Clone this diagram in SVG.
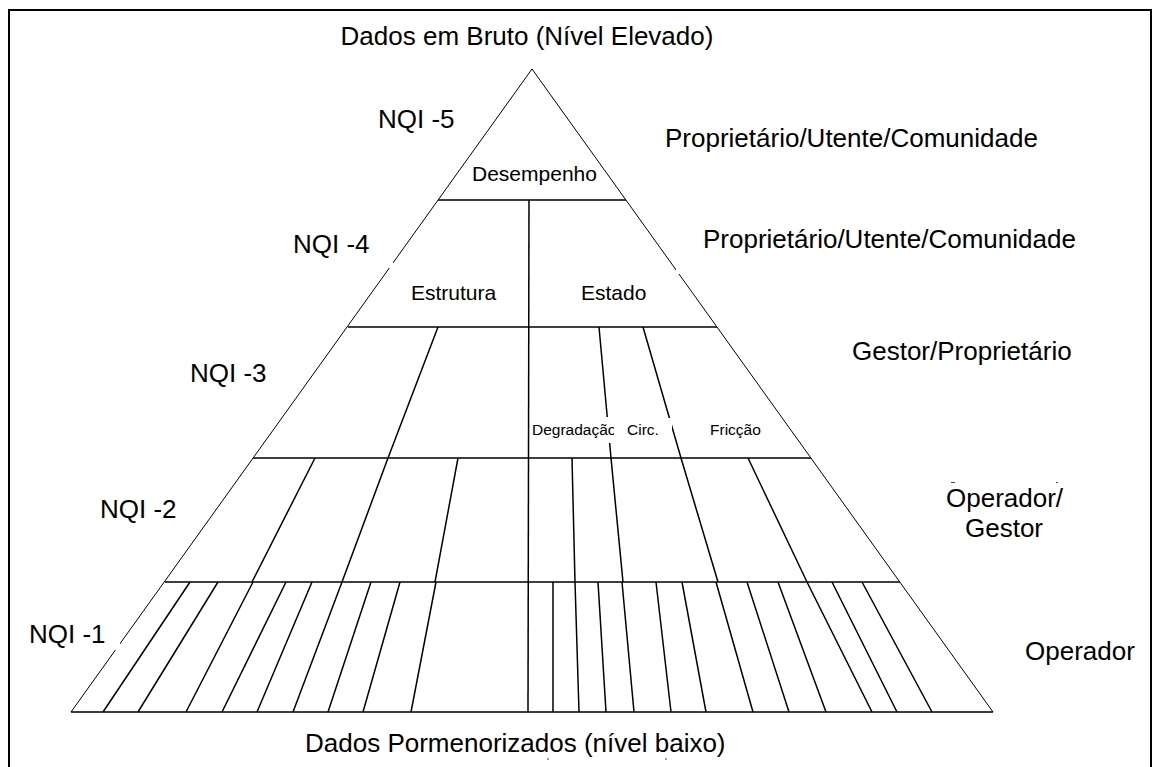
<svg xmlns="http://www.w3.org/2000/svg" width="1162" height="767" viewBox="0 0 1162 767">
<style>
  text { font-family: "Liberation Sans", Arial, sans-serif; fill: #000; }
  .big { font-size: 26px; }
  .mid { font-size: 21px; }
  .sm { font-size: 15.5px; }
  .edge { stroke: #000; stroke-width: 1; fill: none; }
  .ln { stroke: #000; stroke-width: 1.5; fill: none; }
  .frame { stroke: #000; stroke-width: 2; fill: none; }
  .mask { fill: #fff; stroke: none; }
  .tick { stroke: #444; stroke-width: 1; }
</style>
<defs>
  <clipPath id="clipDeg"><rect x="530" y="414" width="84" height="30"/></clipPath>
</defs>
<rect x="0" y="0" width="1162" height="767" fill="#fff"/>
<path class="frame" d="M9 767 V10 H1151 V767"/>

<g id="connectors">
  <path class="edge" d="M532 69 L71 712 M532 69 L993 712"/>
  <path class="ln" d="M71 712 H993 M438 200 H626 M348 327 H717 M253 458 H811 M165 582 H900"/>
  <path class="ln" d="M529 200 L528 712"/>
  <path class="ln" d="M438 327 L388 458 M599 327 L611 458 M643 327 L681 458"/>
  <path class="ln" d="M315 458 L252 582 M388 458 L342 582 M458 458 L435 582 M572 458 L575 582 M611 458 L623 582 M681 458 L718 582 M748 458 L807 582"/>
  <path class="ln" d="M190 582 L103 712 M218 582 L138 712 M253 582 L186 712 M286 582 L222 712 M312 582 L257 712 M342 582 L293 712 M371 582 L328 712 M400 582 L363 712 M436 582 L411 712"/>
  <path class="ln" d="M553 582 L553 712 M575 582 L579 712 M598 582 L606 712 M622 582 L634 712 M656 582 L671 712 M682 582 L706 712 M716 582 L753 712 M747 582 L789 712 M778 582 L826 712 M807 582 L872 712 M832 582 L897 712 M862 582 L932 712"/>
</g>

<g id="masks">
  <rect class="mask" x="20" y="612" width="100" height="38"/>
  <rect class="mask" x="285" y="228" width="108" height="40"/>
  <rect class="mask" x="676" y="222" width="420" height="52"/>
  <rect class="mask" x="530" y="417" width="84" height="26"/>
  <rect class="mask" x="620" y="418" width="52" height="24"/>
</g>

<g id="title"><text class="big" x="527" y="45" text-anchor="middle">Dados em Bruto (Nível Elevado)</text></g>
<g id="bottom-label"><text class="big" x="305" y="752">Dados Pormenorizados (nível baixo)</text></g>

<g id="nqi5"><text class="big" x="378" y="128">NQI -5</text></g>
<g id="nqi4"><text class="big" x="293" y="253">NQI -4</text></g>
<g id="nqi3"><text class="big" x="190" y="382">NQI -3</text></g>
<g id="nqi2"><text class="big" x="100" y="518">NQI -2</text></g>
<g id="nqi1"><text class="big" x="29" y="643">NQI -1</text></g>

<g id="role5"><text class="big" x="665" y="147">Proprietário/Utente/Comunidade</text></g>
<g id="role4"><text class="big" x="703" y="248">Proprietário/Utente/Comunidade</text></g>
<g id="role3"><text class="big" x="852" y="360">Gestor/Proprietário</text></g>
<g id="role2"><text class="big" x="946" y="507">Operador/</text><text class="big" x="965" y="537">Gestor</text></g>
<g id="role1"><text class="big" x="1025" y="660">Operador</text></g>

<g id="desempenho"><text class="mid" x="472" y="181">Desempenho</text></g>
<g id="estrutura"><text class="mid" x="411" y="300">Estrutura</text></g>
<g id="estado"><text class="mid" x="581" y="300">Estado</text></g>
<g id="degradacao"><text class="sm" x="532" y="435" clip-path="url(#clipDeg)">Degradação</text></g>
<g id="circ"><text class="sm" x="627" y="435">Circ.</text></g>
<g id="friccao"><text class="sm" x="710" y="435">Fricção</text></g>

<g id="marks">
  <path class="tick" d="M951 482.5 H955 M1056 482.5 H1058 M548 758 V760 M666 758 V760"/>
</g>
</svg>
